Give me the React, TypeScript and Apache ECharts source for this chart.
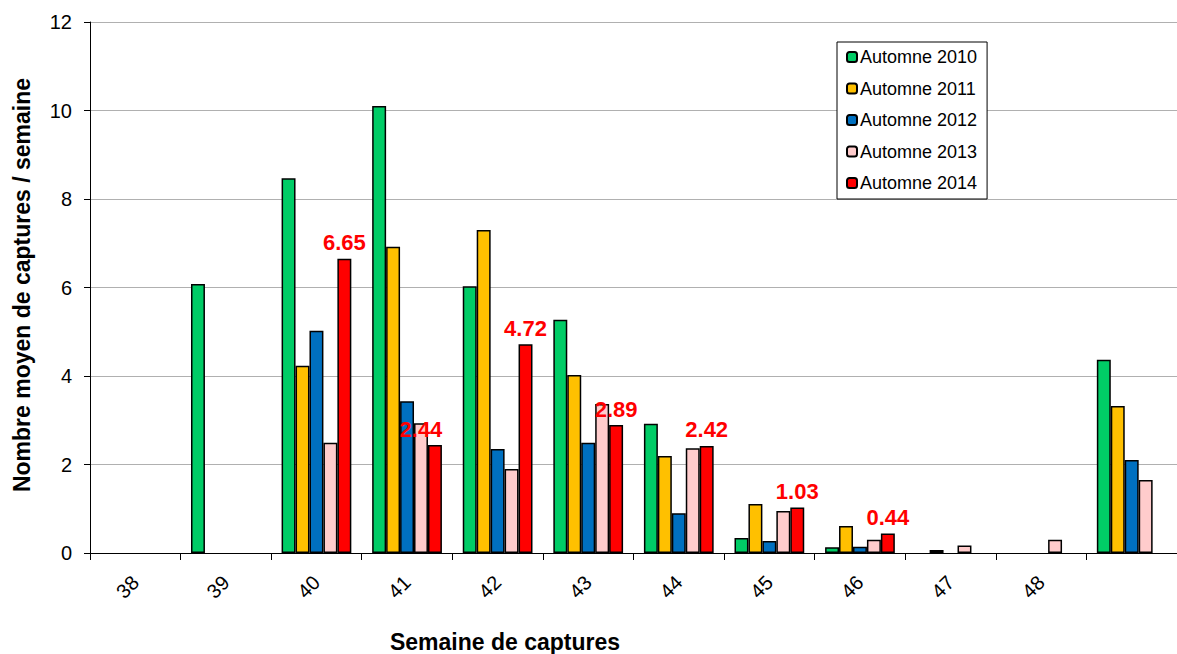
import React, { useEffect, useRef } from "react";
import * as echarts from "echarts";

const categories = ["38", "39", "40", "41", "42", "43", "44", "45", "46", "47", "48", ""];
const seriesNames = ["Automne 2010", "Automne 2011", "Automne 2012", "Automne 2013", "Automne 2014"];
const a2010 = [null, 6.08, 8.47, 10.1, 6.03, 5.27, 2.92, 0.34, 0.13, null, null, 4.37];
const a2011 = [null, null, 4.23, 6.92, 7.3, 4.02, 2.19, 1.11, 0.61, 0.07, null, 3.32];
const a2012 = [null, null, 5.02, 3.43, 2.35, 2.49, 0.9, 0.27, 0.14, null, null, 2.1];
const a2013 = [null, null, 2.49, 2.93, 1.9, 3.37, 2.37, 0.95, 0.3, 0.17, 0.3, 1.65];
const a2014 = [null, null, 6.65, 2.44, 4.72, 2.89, 2.42, 1.03, 0.44, null, null, null];
const colors = ["#00CC66", "#FFC000", "#0070C0", "#FFCCCC", "#FF0000"];
const yTicks = { min: 0, max: 12, interval: 2 };

const FONT = "Liberation Sans, Arial, sans-serif";

export default function App() {
  const ref = useRef<HTMLDivElement>(null);
  useEffect(() => {
    if (!ref.current) return;
    const chart = echarts.init(ref.current, undefined, { renderer: "svg" });
    const allData = [a2010, a2011, a2012, a2013, a2014];
    const series = allData.map((d, i) => ({
      name: seriesNames[i],
      type: "bar" as const,
      barGap: "0%",
      barCategoryGap: "23%",
      itemStyle: { color: colors[i], borderColor: "#000", borderWidth: 1.5 },
      data:
        i === 4
          ? d.map((v, j) =>
              v === null
                ? null
                : j === 3
                ? { value: v, label: { offset: [-14, 0] } }
                : { value: v }
            )
          : d,
      label:
        i === 4
          ? {
              show: true,
              position: "top",
              distance: 5,
              color: "#FF0000",
              fontWeight: "bold",
              fontSize: 22,
              fontFamily: FONT,
              formatter: (p: any) => Number(p.value).toFixed(2),
            }
          : { show: false },
    }));
    chart.setOption({
      animation: false,
      textStyle: { fontFamily: FONT },
      grid: { left: 90, top: 22, width: 1098, height: 531, containLabel: false },
      legend: {
        orient: "vertical",
        left: 837,
        top: 42,
        itemWidth: 10,
        itemHeight: 10,
        itemGap: 13.5,
        padding: [6, 10, 7, 9],
        borderColor: "#000",
        borderWidth: 1,
        backgroundColor: "#fff",
        textStyle: { fontSize: 18, lineHeight: 18, color: "#000", fontFamily: FONT, padding: [0, 0, 0, -2] },
        data: seriesNames,
      },
      xAxis: {
        type: "category",
        data: categories,
        axisLine: { lineStyle: { color: "#000", width: 1 } },
        axisTick: { show: true, length: 7, lineStyle: { color: "#000" } },
        axisLabel: { rotate: 45, fontSize: 20, color: "#000", margin: 26, fontFamily: FONT },
      },
      yAxis: {
        type: "value",
        min: yTicks.min,
        max: yTicks.max,
        interval: yTicks.interval,
        axisLine: { show: true, lineStyle: { color: "#000", width: 1 } },
        axisTick: { show: true, length: 6, lineStyle: { color: "#000" } },
        axisLabel: { fontSize: 20, color: "#000", margin: 18, fontFamily: FONT },
        splitLine: { lineStyle: { color: "#b0b0b0", width: 1 } },
      },
      graphic: [
        {
          type: "text",
          x: 505,
          y: 642,
          style: {
            text: "Semaine de captures",
            font: "bold 23px " + FONT,
            fill: "#000",
            align: "center",
            verticalAlign: "middle",
          },
        },
        {
          type: "text",
          x: 22,
          y: 285,
          rotation: Math.PI / 2,
          style: {
            text: "Nombre moyen de captures / semaine",
            font: "bold 23px " + FONT,
            fill: "#000",
            align: "center",
            verticalAlign: "middle",
          },
        },
      ],
      series,
    });
    return () => chart.dispose();
  }, []);
  return (
    <div
      ref={ref}
      style={{ position: "absolute", left: 0, top: 0, width: 1177, height: 654, background: "#fff" }}
    />
  );
}
